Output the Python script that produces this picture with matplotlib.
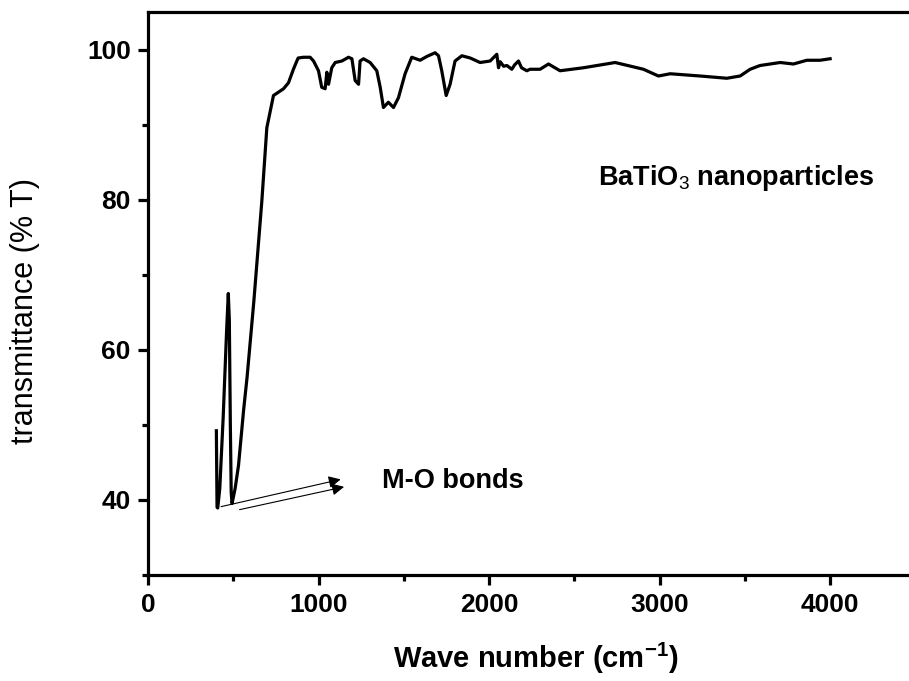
import numpy as np
import matplotlib.pyplot as plt
from matplotlib.ticker import MultipleLocator

plt.rcParams['font.family'] = 'Liberation Sans'
plt.rcParams['mathtext.fontset'] = 'custom'
plt.rcParams['mathtext.rm'] = 'Liberation Sans'
plt.rcParams['mathtext.bf'] = 'Liberation Sans:bold'

# FTIR spectrum of BaTiO3 nanoparticles (wave number in cm^-1, % transmittance)
wavenumber = [400, 404, 408, 420, 440, 460, 470, 476, 482, 487, 492, 510, 530, 560,
              580, 620, 667, 696, 735, 794, 823, 852, 872, 880, 911, 950, 970, 999,
              1018, 1038, 1048, 1058, 1077, 1097, 1136, 1175, 1195, 1214, 1234, 1243,
              1263, 1302, 1341, 1361, 1380, 1409, 1439, 1468, 1507, 1546, 1595, 1634,
              1683, 1703, 1722, 1748, 1771, 1800, 1840, 1889, 1947, 2006, 2045, 2055,
              2065, 2085, 2104, 2133, 2150, 2172, 2190, 2221, 2240, 2299, 2348, 2416,
              2553, 2739, 2905, 2993, 3062, 3238, 3394, 3472, 3531, 3589, 3707, 3785,
              3863, 3941, 4000]
transmittance = [49.2, 39.0, 38.9, 41.5, 51.0, 62.5, 67.5, 64.0, 50.0, 41.0, 39.5, 41.5,
                 44.6, 52.0, 56.3, 66.5, 79.9, 89.6, 93.9, 94.8, 95.6, 97.4, 98.5, 98.9,
                 99.0, 99.0, 98.5, 97.2, 95.0, 94.8, 97.0, 95.4, 97.6, 98.3, 98.5, 99.0,
                 98.8, 95.9, 95.4, 98.5, 98.8, 98.3, 97.2, 95.0, 92.3, 93.0, 92.3, 93.6,
                 96.8, 99.0, 98.6, 99.1, 99.6, 99.2, 97.2, 93.9, 95.4, 98.5, 99.2, 98.9,
                 98.3, 98.5, 99.4, 97.6, 98.4, 97.8, 97.9, 97.4, 98.0, 98.5, 97.6, 97.2,
                 97.4, 97.4, 98.1, 97.2, 97.6, 98.3, 97.4, 96.5, 96.8, 96.5, 96.2, 96.5,
                 97.4, 97.9, 98.3, 98.1, 98.6, 98.6, 98.8]

fig = plt.figure(figsize=(9.09, 6.81), dpi=100)
ax = fig.add_axes([0.163, 0.156, 0.844, 0.826])

ax.plot(wavenumber, transmittance, color='black', lw=2.3)

ax.set_xlim(0, 4500)
ax.set_ylim(30, 105)
ax.xaxis.set_major_locator(MultipleLocator(1000))
ax.xaxis.set_minor_locator(MultipleLocator(500))
ax.yaxis.set_minor_locator(MultipleLocator(10))
ax.set_yticks([40, 60, 80, 100])

for s in ax.spines.values():
    s.set_linewidth(2.3)
ax.spines['right'].set_visible(False)

ax.tick_params(which='major', direction='out', length=7, width=2.3, labelsize=19, pad=5.5)
ax.tick_params(which='minor', direction='out', length=4, width=2.3)
ax.tick_params(axis='x', which='major', pad=6)
for lab in ax.get_xticklabels() + ax.get_yticklabels():
    lab.set_fontweight('bold')

ax.set_xlabel(r'Wave number (cm$^{\mathbf{-1}}$)', fontsize=21, fontweight='bold')
ax.xaxis.set_label_coords(0.505, -0.118)
ax.set_ylabel('transmittance (% T)', fontsize=22)
ax.yaxis.set_label_coords(-0.141, 0.469)

ax.text(2640, 82.9, r'BaTiO$_3$ nanoparticles', fontsize=19.5, fontweight='bold', va='center')
ax.text(1370, 42.5, 'M-O bonds', fontsize=19.5, fontweight='bold', va='center')

# two thin arrows pointing from the M-O bands towards the label
ax.annotate('', xy=(1145, 42.8), xytext=(412, 39.0),
            arrowprops=dict(arrowstyle='-|>', color='black', lw=0.8, mutation_scale=18))
ax.annotate('', xy=(1165, 41.8), xytext=(520, 38.6),
            arrowprops=dict(arrowstyle='-|>', color='black', lw=0.8, mutation_scale=18))

fig.savefig('out.png', dpi=100)
